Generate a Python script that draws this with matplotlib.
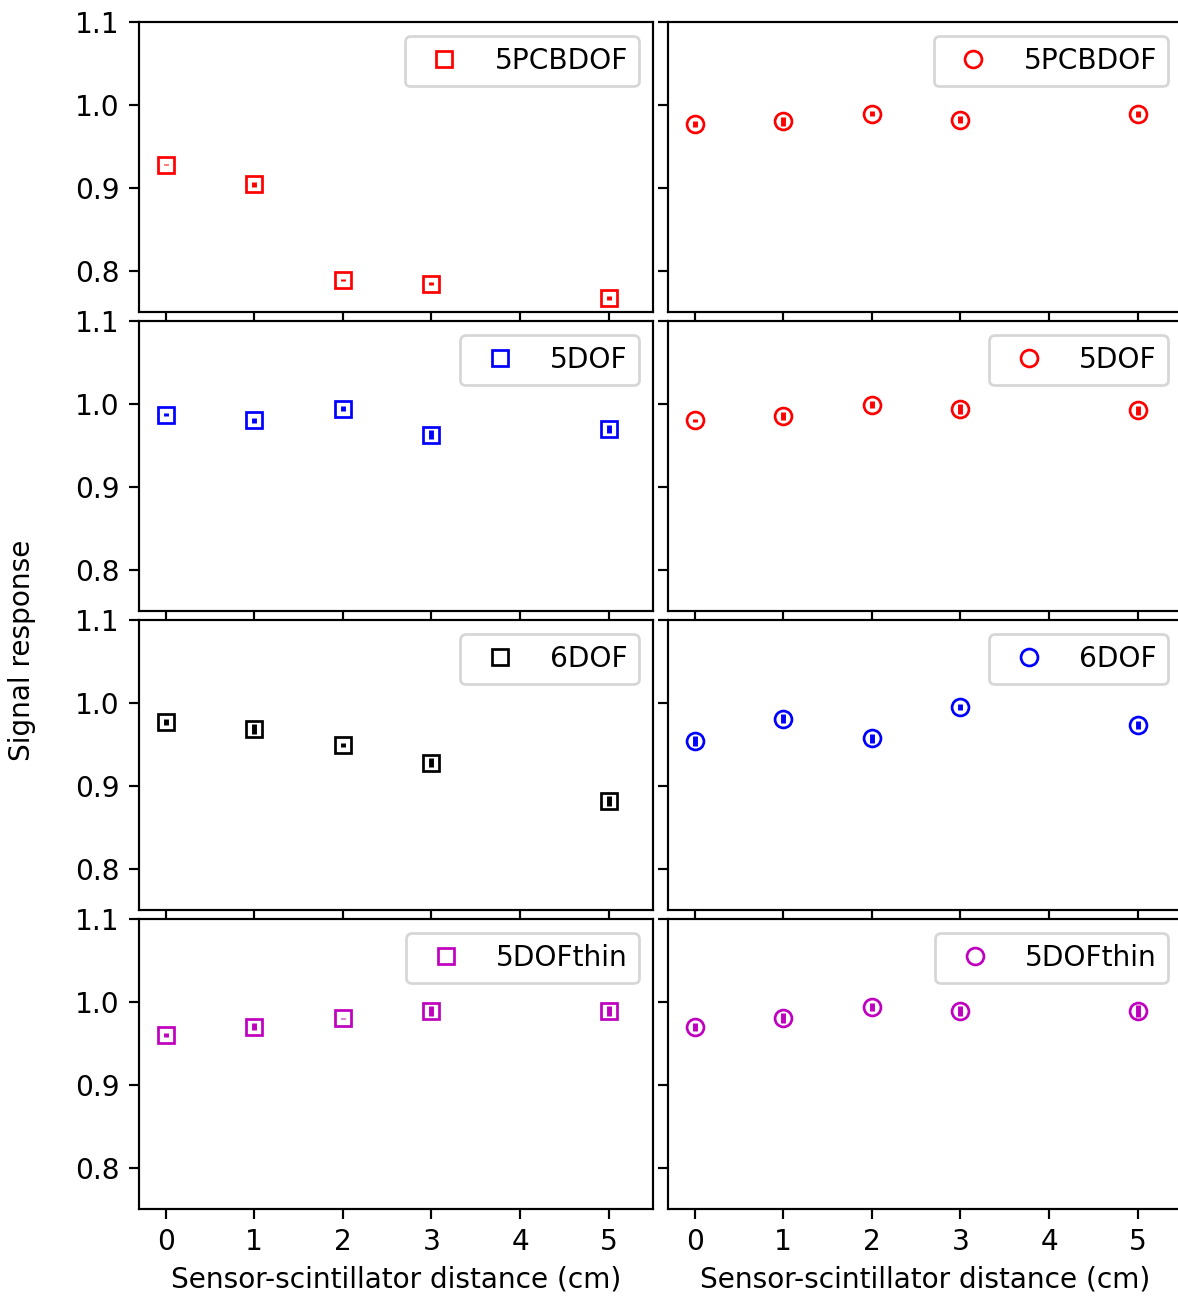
import matplotlib
matplotlib.use("Agg")
import matplotlib.pyplot as plt

# Sensor-scintillator distances (cm)
distance = [0, 1, 2, 3, 5]

# Left column: square markers
sq_labels = ["5PCBDOF", "5DOF", "6DOF", "5DOFthin"]
sq_colors = ["red", "blue", "black", "m"]
sq_5pcbdof = [0.928, 0.904, 0.789, 0.784, 0.767]
sq_5pcbdof_err = [0.001, 0.003, 0.001, 0.002, 0.002]
sq_5dof = [0.987, 0.980, 0.994, 0.963, 0.970]
sq_5dof_err = [0.002, 0.003, 0.003, 0.005, 0.005]
sq_6dof = [0.977, 0.968, 0.949, 0.928, 0.881]
sq_6dof_err = [0.004, 0.006, 0.002, 0.005, 0.006]
sq_5dofthin = [0.960, 0.970, 0.980, 0.989, 0.989]
sq_5dofthin_err = [0.002, 0.004, 0.001, 0.006, 0.006]

# Right column: circle markers
ci_labels = ["5PCBDOF", "5DOF", "6DOF", "5DOFthin"]
ci_colors = ["red", "red", "blue", "m"]
ci_5pcbdof = [0.977, 0.980, 0.989, 0.982, 0.989]
ci_5pcbdof_err = [0.004, 0.005, 0.003, 0.004, 0.004]
ci_5dof = [0.980, 0.985, 0.999, 0.994, 0.992]
ci_5dof_err = [0.002, 0.005, 0.004, 0.006, 0.006]
ci_6dof = [0.954, 0.981, 0.957, 0.995, 0.973]
ci_6dof_err = [0.006, 0.005, 0.005, 0.004, 0.005]
ci_5dofthin = [0.970, 0.980, 0.994, 0.989, 0.989]
ci_5dofthin_err = [0.005, 0.006, 0.005, 0.006, 0.007]

sq_vals = [sq_5pcbdof, sq_5dof, sq_6dof, sq_5dofthin]
sq_errs = [sq_5pcbdof_err, sq_5dof_err, sq_6dof_err, sq_5dofthin_err]
ci_vals = [ci_5pcbdof, ci_5dof, ci_6dof, ci_5dofthin]
ci_errs = [ci_5pcbdof_err, ci_5dof_err, ci_6dof_err, ci_5dofthin_err]

xticks = [0, 1, 2, 3, 4, 5]
yticks = [0.8, 0.9, 1.0, 1.1]
ytick_labels = ["0.8", "0.9", "1.0", "1.1"]

DPI = 196
W, H = 1178, 1298
plt.rcParams["font.size"] = 10.3
fig = plt.figure(figsize=(W / DPI, H / DPI), dpi=DPI)

ax_w = 514 / W
ax_h = 290 / H
lefts = [139 / W, 668 / W]
tops = [22, 321, 620, 919]

for r in range(4):
    bottom = 1 - (tops[r] + 290) / H
    for c in range(2):
        ax = fig.add_axes([lefts[c], bottom, ax_w, ax_h])
        if c == 0:
            vals, errs, col, lab, mk = sq_vals[r], sq_errs[r], sq_colors[r], sq_labels[r], "s"
        else:
            vals, errs, col, lab, mk = ci_vals[r], ci_errs[r], ci_colors[r], ci_labels[r], "o"
        cont = ax.errorbar(distance, vals, yerr=errs, fmt=mk, color=col,
                           mfc="none", mec=col, ecolor=col, elinewidth=1.8,
                           markersize=6.2, label=lab)
        ax.set_xlim(-0.3, 5.5)
        ax.set_ylim(0.75, 1.1)
        ax.set_xticks(xticks)
        ax.set_yticks(yticks)
        if c == 0:
            ax.set_yticklabels(ytick_labels)
        else:
            ax.set_yticklabels([])
        if r == 3:
            ax.set_xticklabels([str(t) for t in xticks])
            ax.set_xlabel("Sensor-scintillator distance (cm)", labelpad=3.5)
        else:
            ax.set_xticklabels([])
        ax.legend(handles=[cont[0]], labels=[lab], loc="upper right")

fig.text(22 / W, 1 - 650 / H, "Signal response", rotation=90,
         ha="center", va="center")

fig.savefig("out.png", dpi=DPI)
